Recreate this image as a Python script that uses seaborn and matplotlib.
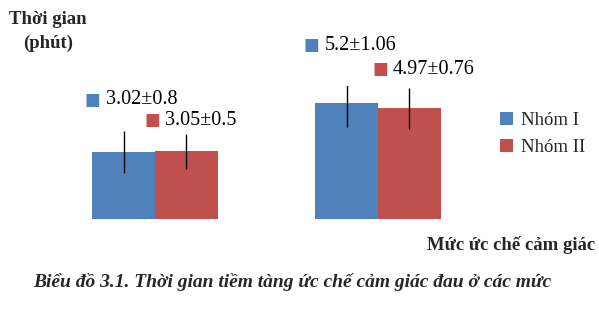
import matplotlib
matplotlib.use("Agg")
import matplotlib.pyplot as plt
import seaborn as sns
import pandas as pd

# ---- data ----
levels = ["Mức 1", "Mức 2"]
groups = ["Nhóm I", "Nhóm II"]
nhom1_values = [3.02, 5.2]
nhom2_values = [3.05, 4.97]
nhom1_sd_text = ["0.8", "1.06"]
nhom2_sd_text = ["0.5", "0.76"]
nhom1_err_drawn = [0.95, 1.08]
nhom2_err_drawn = [0.79, 0.92]
colors = ["#4F81BD", "#C0504D"]

df = pd.DataFrame({
    "level": levels * 2,
    "group": [groups[0]] * 2 + [groups[1]] * 2,
    "value": nhom1_values + nhom2_values,
})

sns.set_style("white")
plt.rcParams["font.family"] = ["Liberation Serif", "DejaVu Serif"]

fig = plt.figure(figsize=(5.99, 3.11), dpi=100)
W, H = 599, 311
ax = fig.add_axes([43.5 / W, 92 / H, 446 / W, 133.5 / H])

sns.barplot(data=df, x="level", y="value", hue="group", order=levels,
            hue_order=groups, palette=colors, width=0.565, saturation=1,
            errorbar=None, ax=ax, legend=True, linewidth=0, edgecolor="none")

ax.set_xlim(-0.5, 1.5)
ax.set_ylim(0, 6)
for s in ax.spines.values():
    s.set_visible(False)
ax.set_xticks([])
ax.set_yticks([])
ax.set_xlabel("")
ax.set_ylabel("")

# error bars & labels
errs = {groups[0]: nhom1_err_drawn, groups[1]: nhom2_err_drawn}
vals = {groups[0]: nhom1_values, groups[1]: nhom2_values}
sds = {groups[0]: nhom1_sd_text, groups[1]: nhom2_sd_text}
# pixel offsets of label marker from bar top centre (group, level)
label_offsets = {
    (0, 0): (-31, 52), (1, 0): (-34.5, 31),
    (0, 1): (-35, 58), (1, 1): (-29.5, 39),
}
for gi, g in enumerate(groups):
    bars = ax.containers[gi]
    for li, bar in enumerate(bars.patches):
        xc = bar.get_x() + bar.get_width() / 2
        h = bar.get_height()
        ax.errorbar(xc, h, yerr=errs[g][li], fmt="none", ecolor="black",
                    elinewidth=1, capsize=0)
        dx, dy = label_offsets[(gi, li)]
        ax.annotate("■", xy=(xc, h), xytext=(dx, dy), textcoords="offset pixels",
                    ha="center", va="center", color=colors[gi], fontsize=12,
                    family="DejaVu Sans", annotation_clip=False)
        ax.annotate(f"{vals[g][li]}±{sds[g][li]}", xy=(xc, h),
                    xytext=(dx + 13, dy), textcoords="offset pixels",
                    ha="left", va="center", fontsize=14.5, color="#000000",
                    annotation_clip=False)

# legend
handles, labels = ax.get_legend_handles_labels()
ax.legend(handles, labels, loc="center left", bbox_to_anchor=(500 / W, 1 - 134 / H),
          bbox_transform=fig.transFigure, frameon=False, fontsize=13.5,
          handlelength=0.7, handleheight=0.7, handletextpad=0.4,
          labelspacing=0.55, borderaxespad=0, borderpad=0)

# texts
fig.text(48 / W, 1 - 20 / H, "Thời gian", ha="center", va="center",
         fontsize=13.5, fontweight="bold")
fig.text(48 / W, 1 - 43 / H, "(phút)", ha="center", va="center",
         fontsize=13.5, fontweight="bold")
fig.text(595 / W, 1 - 245 / H, "Mức ức chế cảm giác", ha="right", va="center",
         fontsize=13.5, fontweight="bold")
fig.text(33 / W, 1 - 282 / H,
         "Biểu đồ 3.1. Thời gian tiềm tàng ức chế cảm giác đau ở các mức",
         ha="left", va="center", fontsize=14, fontweight="bold", style="italic")

fig.savefig("out.png", dpi=100)
